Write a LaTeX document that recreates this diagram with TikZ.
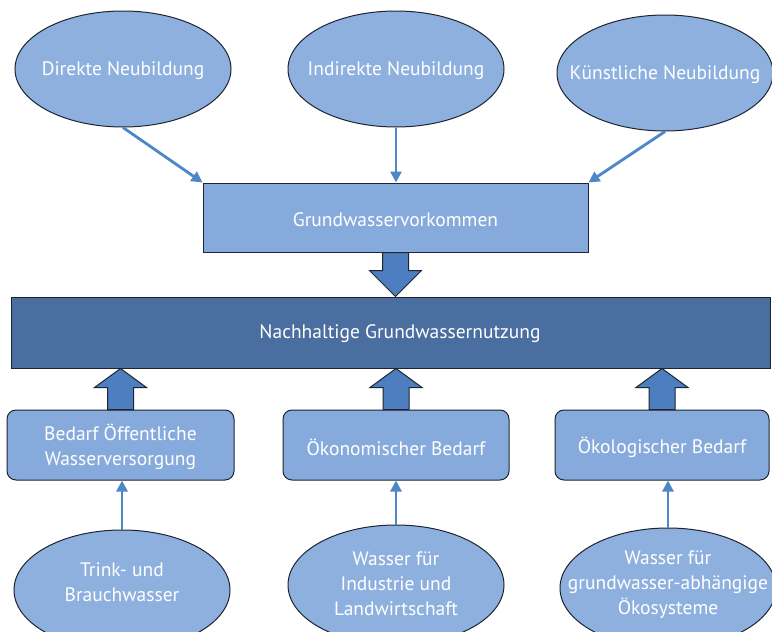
\documentclass[tikz,border=0pt]{standalone}
\usepackage{fontspec}
\setmainfont{PT Sans}
\usetikzlibrary{shapes.geometric,arrows.meta,calc}
\definecolor{ellfill}{HTML}{8DB0DE}
\definecolor{boxfill}{HTML}{86AADB}
\definecolor{barfill}{HTML}{4A6E9F}
\definecolor{arrfill}{HTML}{4D7EBF}
\definecolor{thinarr}{HTML}{4F86C6}
\definecolor{edge}{HTML}{1E2530}
\tikzset{
  ell/.style={ellipse, draw=edge, line width=1pt, fill=ellfill, minimum width=216pt, minimum height=116pt, inner sep=0pt},
  rbox/.style={rectangle, draw=edge, line width=1pt, fill=boxfill, inner sep=0pt},
  rrbox/.style={rbox, rounded corners=9pt},
  lbl/.style={text=white, font=\fontsize{19.5}{25}\selectfont, align=center},
  thin/.style={draw=thinarr, line width=2.8pt, -{Triangle[width=11pt,length=11pt]}},
  blk/.style={draw=edge, line width=1pt, fill=arrfill, line join=miter}
}
\begin{document}
\begin{tikzpicture}[x=1pt,y=-1pt]
\useasboundingbox (0,0) rectangle (772,632);
\clip (0,0) rectangle (772,632);
\fill[white] (0,0) rectangle (772,632);
% top ellipses
\node[ell] (e1) at (123,69) {};
\node[lbl] (t1) at (123,71) {Direkte Neubildung};
\node[ell] (e2) at (396,69) {};
\node[lbl] (t2) at (396,71) {Indirekte Neubildung};
\node[ell] (e3) at (665,73) {};
\node[lbl] (t3) at (665,75) {Künstliche Neubildung};
% box
\node[rbox, minimum width=385pt, minimum height=69pt] (gw) at (395.5,217.5) {};
\node[lbl] (tgw) at (395.5,220) {Grundwasservorkommen};
% bar
\node[rbox, fill=barfill, minimum width=759pt, minimum height=71pt] (bar) at (390.5,332.5) {};
\node[lbl] (tbar) at (400,334) {Nachhaltige Grundwassernutzung};
% bottom boxes
\node[rrbox, minimum width=227pt, minimum height=70pt] (b1) at (120.5,445) {};
\node[lbl] (tb1) at (120.5,447) {Bedarf Öffentliche\\Wasserversorgung};
\node[rrbox, minimum width=226pt, minimum height=70pt] (b2) at (396,445) {};
\node[lbl] (tb2) at (396,447) {Ökonomischer Bedarf};
\node[rrbox, minimum width=214pt, minimum height=70pt] (b3) at (662,445) {};
\node[lbl] (tb3) at (662,447) {Ökologischer Bedarf};
% bottom ellipses
\node[ell, minimum height=120pt] (f1) at (122,590) {};
\node[lbl] (tf1) at (122,582) {Trink- und\\Brauchwasser};
\node[ell, minimum height=120pt] (f2) at (396,585) {};
\node[lbl] (tf2) at (396,584) {Wasser für\\Industrie und\\Landwirtschaft};
\node[ell, minimum height=120pt] (f3) at (668,588) {};
\node[lbl] (tf3) at (668,585) {Wasser für\\grundwasser-abhängige\\Ökosysteme};
% thin arrows
\draw[thin] (e1.south) -- (gw.north west);
\draw[thin] (e2.south) -- (e2.south |- gw.north);
\draw[thin] (e3.south) -- (gw.north east);
\draw[thin] (f1.north) -- (f1.north |- b1.south);
\draw[thin] (f2.north) -- (f2.north |- b2.south);
\draw[thin] (f3.north) -- (f3.north |- b3.south);
% block arrows
\draw[blk] (gw.south) ++(-13,0) -- ++(0,18) -- ++(-13,0) -- ($(gw.south |- bar.north)$) -- ($(gw.south)+(26,18)$) -- ++(-13,0) -- ++(0,-18) -- cycle;
\draw[blk] ($(b1.north)+(-13,0)$) -- ++(0,-22) -- ++(-13,0) -- ($(b1.north |- bar.south)$) -- ($(b1.north)+(26,-22)$) -- ++(-13,0) -- ++(0,22) -- cycle;
\draw[blk] ($(b2.north)+(-13,0)$) -- ++(0,-22) -- ++(-13,0) -- ($(b2.north |- bar.south)$) -- ($(b2.north)+(26,-22)$) -- ++(-13,0) -- ++(0,22) -- cycle;
\draw[blk] ($(b3.north)+(-13,0)$) -- ++(0,-22) -- ++(-13,0) -- ($(b3.north |- bar.south)$) -- ($(b3.north)+(26,-22)$) -- ++(-13,0) -- ++(0,22) -- cycle;
\end{tikzpicture}
\end{document}
